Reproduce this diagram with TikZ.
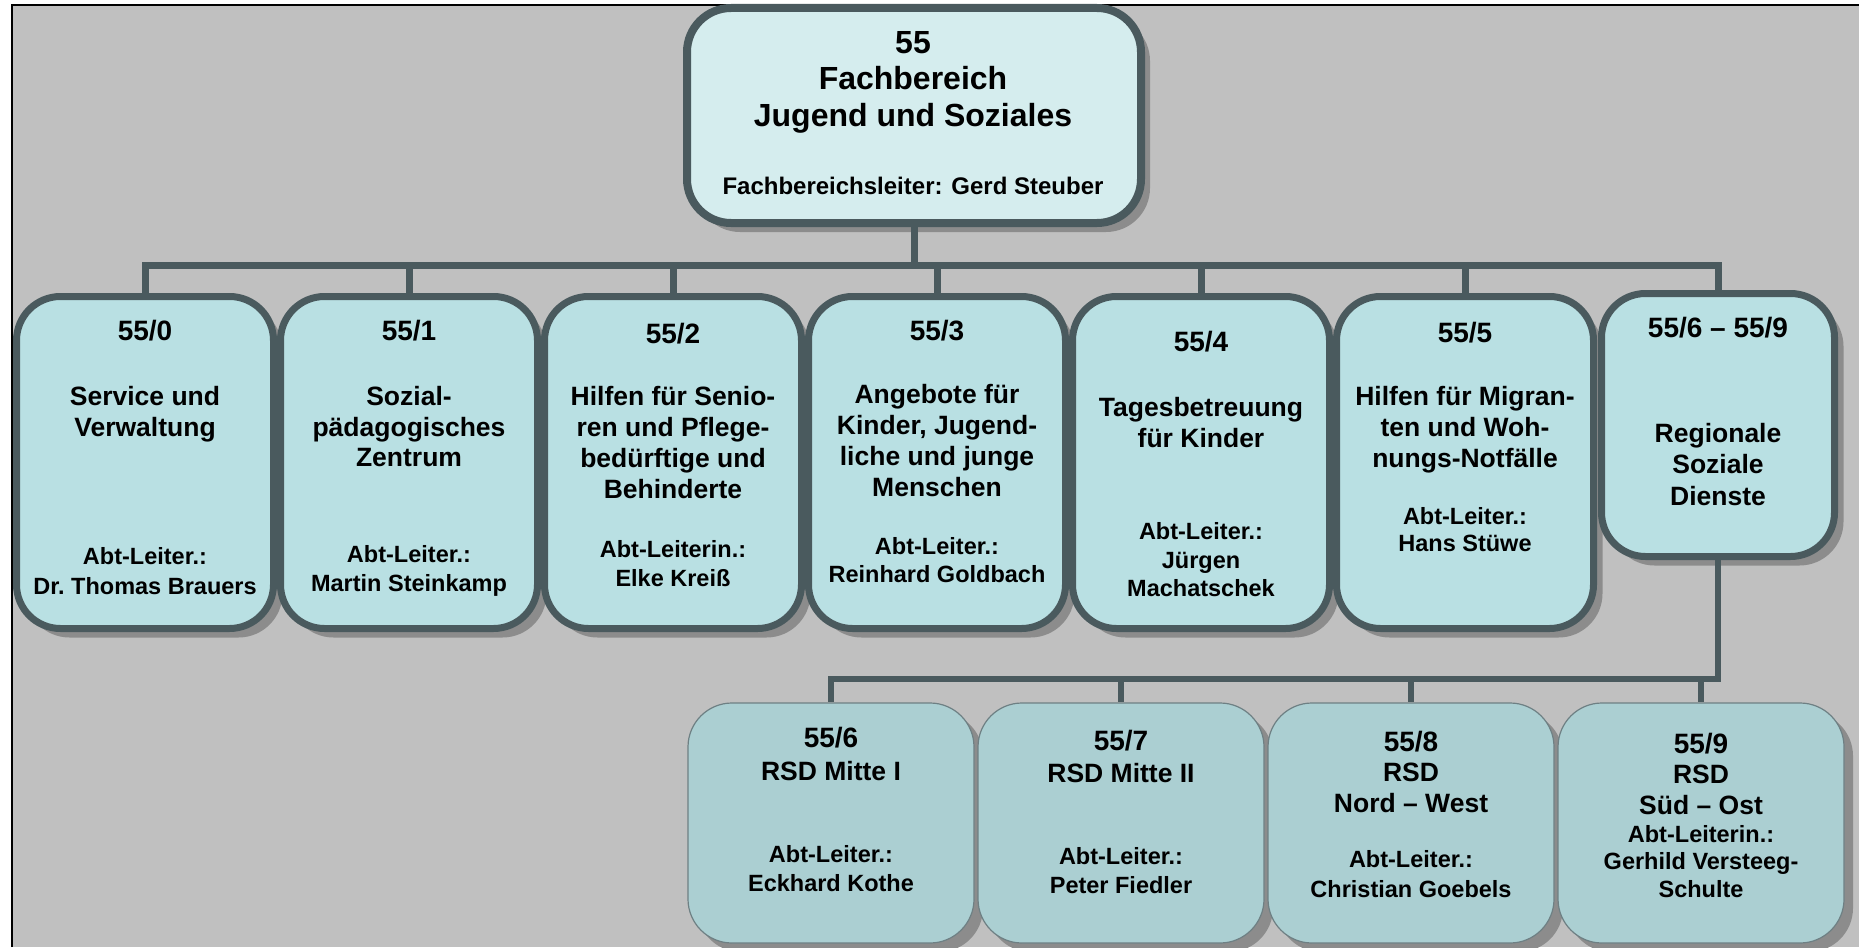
\documentclass[tikz,border=0pt]{standalone}
\usepackage{fontspec}
\setmainfont{Liberation Sans}
\usetikzlibrary{shadows}
\definecolor{bggray}{HTML}{C0C0C0}
\definecolor{edge}{HTML}{4A5A5E}
\definecolor{topfill}{HTML}{D5EDEE}
\definecolor{midfill}{HTML}{B9E0E3}
\definecolor{lowfill}{HTML}{ABCFD2}
\definecolor{loweredge}{HTML}{6E8084}
\definecolor{shade}{HTML}{8C8C8C}
\tikzset{
  shd/.style={drop shadow={shadow xshift=9pt,shadow yshift=-9pt,fill=shade,opacity=1}},
  topbox/.style={draw=edge,line width=8pt,fill=topfill,rounded corners=44pt,minimum width=454pt,minimum height=215pt,inner sep=0pt,shd},
  midbox/.style={draw=edge,line width=7pt,fill=midfill,rounded corners=44pt,minimum width=257pt,minimum height=332pt,inner sep=0pt,shd},
  lowbox/.style={draw=loweredge,line width=1.2pt,fill=lowfill,rounded corners=44pt,minimum width=286pt,minimum height=240pt,inner sep=0pt,shd},
  conn/.style={draw=edge,line width=7pt},
  lconn/.style={draw=edge,line width=6pt},
  txt/.style={inner sep=0pt,anchor=base},
  tbig/.style={txt,font=\fontsize{32}{36}\bfseries\selectfont},
  tsub/.style={txt,font=\fontsize{24}{28}\bfseries\selectfont},
  tnum/.style={txt,font=\fontsize{28}{32}\bfseries\selectfont},
  tttl/.style={txt,font=\fontsize{26.5}{31}\bfseries\selectfont},
  tlead/.style={txt,font=\fontsize{23.5}{28}\bfseries\selectfont},
}
\newcommand\txtlines[6]{\foreach \t [count=\k] in {#6} \node[#1] (#2-\k) at ({#3},{#4+#5*(\k-1)}) {\t};}
\begin{document}
\begin{tikzpicture}[x=1pt,y=-1pt]
\useasboundingbox (0,0) rectangle (1859,947);
\fill[white] (0,0) rectangle (1859,947);
\fill[bggray] (12,5) rectangle (1859,947);
\draw[black,line width=2pt] (12,947) -- (12,5) -- (1859,5);

% boxes
\node[topbox] (top) at (914,115.5) {};
\node[midbox] (b0) at (145,462.5) {};
\node[midbox] (b1) at (409,462.5) {};
\node[midbox] (b2) at (673,462.5) {};
\node[midbox] (b3) at (937,462.5) {};
\node[midbox] (b4) at (1201,462.5) {};
\node[midbox] (b5) at (1465,462.5) {};
\node[midbox,minimum width=233pt,minimum height=263pt] (b6) at (1718,425) {};
\node[lowbox] (c6) at (831,823) {};
\node[lowbox] (c7) at (1121,823) {};
\node[lowbox] (c8) at (1411,823) {};
\node[lowbox] (c9) at (1701,823) {};

% connectors
\coordinate (bus) at (914,265);
\coordinate (lbus) at (1718,679);
\draw[conn] (top.south) -- (top.south |- bus);
\draw[conn] (b0.north) -- (b0.north |- bus) -- (b6.north |- bus) -- (b6.north);
\foreach \n in {b1,b2,b3,b4,b5} \draw[conn] (\n.north |- bus) -- (\n.north);
\draw[lconn] (b6.south) -- (b6.south |- lbus) -- (c6.north |- lbus) -- (c6.north);
\foreach \n in {c7,c8,c9} \draw[lconn] (\n.north |- lbus) -- (\n.north);

% texts
\txtlines{tbig}{tt}{913}{53.3}{36.7}{55,Fachbereich,Jugend und Soziales}
\node[tsub] (tl) at (913,194) {Fachbereichsleiter: Gerd Steuber};

\node[tnum] (n0) at (145,340) {55/0};
\txtlines{tttl}{t0}{145}{405.5}{31}{Service und,Verwaltung}
\txtlines{tlead}{l0}{145}{564.5}{29.5}{Abt-Leiter.:,Dr.\ Thomas Brauers}

\node[tnum] (n1) at (409,340) {55/1};
\txtlines{tttl}{t1}{409}{405.5}{30.5}{Sozial-,pädagogisches,Zentrum}
\txtlines{tlead}{l1}{409}{562}{29.5}{Abt-Leiter.:,Martin Steinkamp}

\node[tnum] (n2) at (673,343) {55/2};
\txtlines{tttl}{t2}{673}{405.5}{31.1}{Hilfen für Senio-,ren und Pflege-,bedürftige und,Behinderte}
\txtlines{tlead}{l2}{673}{557.4}{28.6}{Abt-Leiterin.:,Elke Kreiß}

\node[tnum] (n3) at (937,340) {55/3};
\txtlines{tttl}{t3}{937}{403}{31.3}{Angebote für,{Kinder, Jugend-},liche und junge,Menschen}
\txtlines{tlead}{l3}{937}{554}{28.4}{Abt-Leiter.:,Reinhard Goldbach}

\node[tnum] (n4) at (1201,351) {55/4};
\txtlines{tttl}{t4}{1201}{416.5}{30.5}{Tagesbetreuung,für Kinder}
\txtlines{tlead}{l4}{1201}{539.5}{28.5}{Abt-Leiter.:,Jürgen,Machatschek}

\node[tnum] (n5) at (1465,342) {55/5};
\txtlines{tttl}{t5}{1465}{405.5}{30.8}{Hilfen für Migran-,ten und Woh-,nungs-Notfälle}
\txtlines{tlead}{l5}{1465}{524}{27.5}{Abt-Leiter.:,Hans Stüwe}

\node[tnum] (n6) at (1718,337) {55/6 – 55/9};
\txtlines{tttl}{t6}{1718}{442}{31.5}{Regionale,Soziale,Dienste}

\txtlines{tnum}{m6}{831}{747.4}{32.6}{55/6}
\node[tttl] (r6) at (831,780) {RSD Mitte I};
\txtlines{tlead}{k6}{831}{862}{29.7}{Abt-Leiter.:,Eckhard Kothe}

\node[tnum] (m7) at (1121,750) {55/7};
\node[tttl] (r7) at (1121,782.5) {RSD Mitte II};
\txtlines{tlead}{k7}{1121}{864.4}{28.6}{Abt-Leiter.:,Peter Fiedler}

\node[tnum] (m8) at (1411,751) {55/8};
\txtlines{tttl}{r8}{1411}{781.3}{30.7}{RSD,Nord – West}
\txtlines{tlead}{k8}{1411}{867}{30.5}{Abt-Leiter.:,Christian Goebels}

\node[tnum] (m9) at (1701,753.4) {55/9};
\txtlines{tttl}{r9}{1701}{783.5}{31}{RSD,Süd – Ost}
\txtlines{tlead}{k9}{1701}{842}{27.8}{Abt-Leiterin.:,Gerhild Versteeg-,Schulte}
\end{tikzpicture}
\end{document}
